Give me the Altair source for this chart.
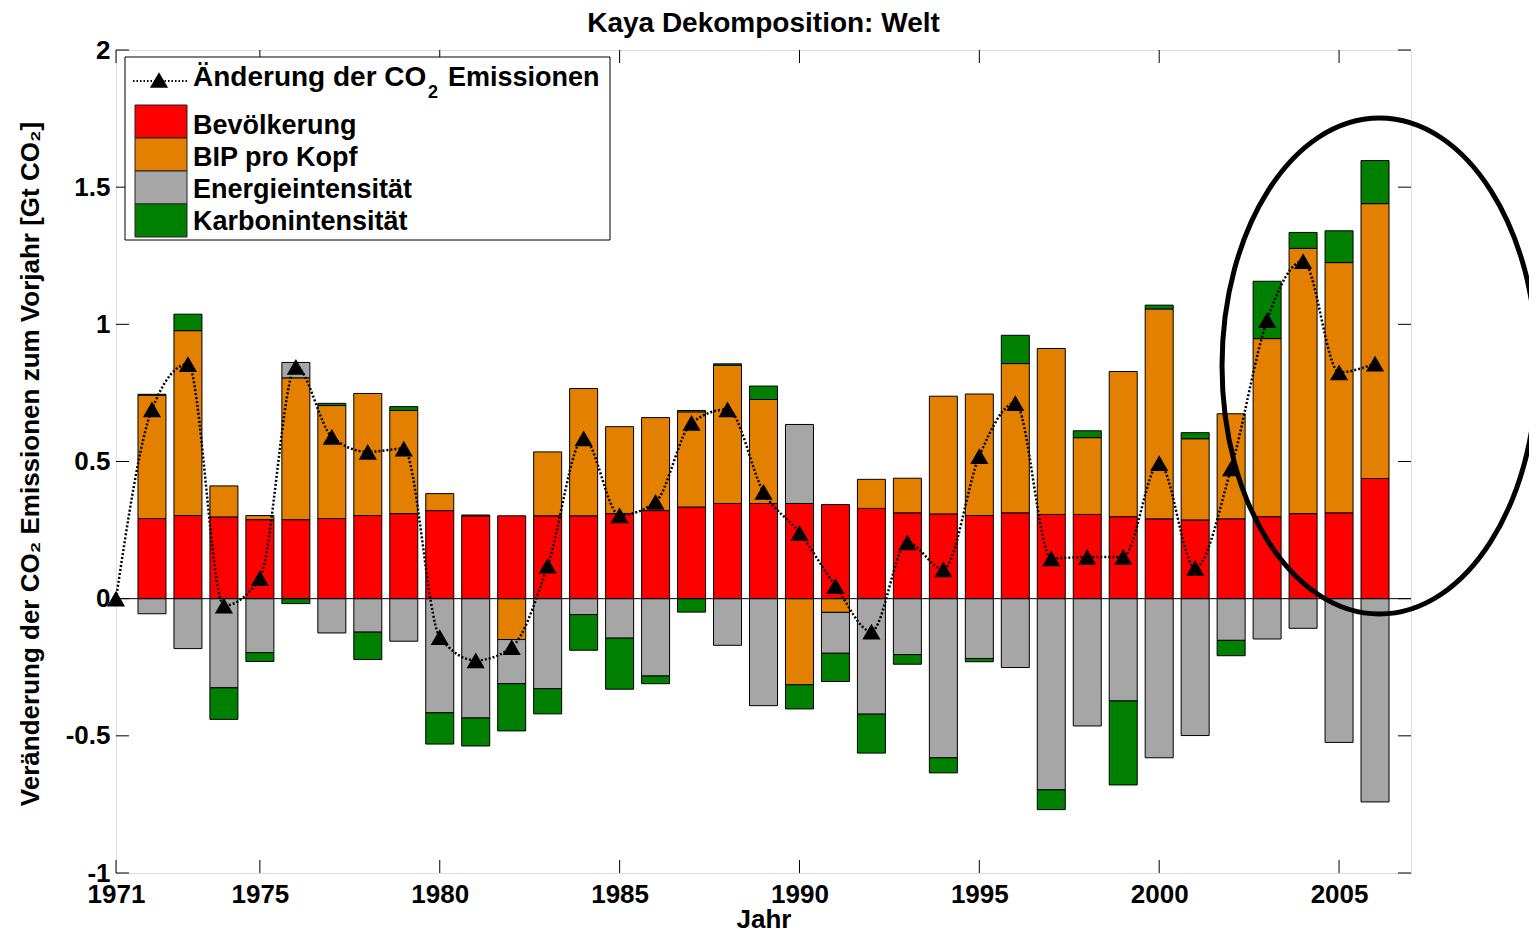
import altair as alt
import pandas as pd

# ---------------- data ----------------
YEARS = list(range(1972, 2007))
COMPONENTS = ["Bevölkerung", "BIP pro Kopf", "Energieintensität", "Karbonintensität"]
COLORS = ["#FF0000", "#E38000", "#A6A6A6", "#008000"]

POP = [0.292, 0.303, 0.298, 0.288, 0.288, 0.292, 0.303, 0.310, 0.321, 0.302,
       0.302, 0.302, 0.302, 0.310, 0.321, 0.334, 0.347, 0.347, 0.347, 0.343,
       0.329, 0.313, 0.309, 0.303, 0.313, 0.307, 0.307, 0.299, 0.291, 0.287,
       0.291, 0.299, 0.310, 0.313, 0.438]
GDP = [0.450, 0.674, 0.113, 0.015, 0.517, 0.412, 0.445, 0.376, 0.062, 0.003,
       -0.149, 0.233, 0.464, 0.317, 0.339, 0.347, 0.504, 0.379, -0.314, -0.050,
       0.106, 0.126, 0.429, 0.443, 0.544, 0.605, 0.280, 0.529, 0.765, 0.296,
       0.383, 0.649, 0.967, 0.912, 1.002]
ENERGY = [-0.055, -0.182, -0.325, -0.197, 0.056, -0.125, -0.122, -0.155, -0.416, -0.435,
          -0.161, -0.328, -0.058, -0.144, -0.282, 0.005, -0.170, -0.390, 0.288, -0.149,
          -0.421, -0.204, -0.580, -0.218, -0.251, -0.697, -0.464, -0.373, -0.580, -0.499,
          -0.152, -0.147, -0.108, -0.524, -0.741]
CARBON = [0.003, 0.060, -0.115, -0.032, -0.018, 0.008, -0.100, 0.014, -0.114, -0.102,
          -0.172, -0.092, -0.130, -0.186, -0.028, -0.049, 0.005, 0.049, -0.088, -0.103,
          -0.142, -0.035, -0.055, -0.012, 0.103, -0.072, 0.025, -0.306, 0.014, 0.022,
          -0.056, 0.209, 0.058, 0.116, 0.157]

LINE_YEARS = list(range(1971, 2007))
TOTAL = [0.0, 0.69, 0.855, -0.025, 0.075, 0.845, 0.59, 0.535, 0.547, -0.14,
         -0.225, -0.177, 0.12, 0.584, 0.304, 0.353, 0.641, 0.69, 0.389, 0.24,
         0.047, -0.12, 0.205, 0.107, 0.52, 0.713, 0.147, 0.152, 0.152, 0.494,
         0.112, 0.475, 1.015, 1.23, 0.825, 0.857]

X_TICKS = [1971, 1975, 1980, 1985, 1990, 1995, 2000, 2005]
Y_TICKS = [-1, -0.5, 0, 0.5, 1, 1.5, 2]
X_DOMAIN = [1971, 2007]
Y_DOMAIN = [-1, 2]

TITLE = "Kaya Dekomposition: Welt"
X_TITLE = "Jahr"
Y_TITLE = "Veränderung der CO₂ Emissionen zum Vorjahr [Gt CO₂]"
LINE_LABEL = ["Änderung der CO", "2", "Emissionen"]

# ---------------- tables ----------------
rows = []
for i, yr in enumerate(YEARS):
    for k, arr in enumerate([POP, GDP, ENERGY, CARBON]):
        rows.append({"year": yr, "komponente": COMPONENTS[k], "wert": arr[i], "ord": k})
bar_df = pd.DataFrame(rows)
line_df = pd.DataFrame({"year": LINE_YEARS, "total": TOTAL})
xt_df = pd.DataFrame({"v": X_TICKS})
yt_df = pd.DataFrame({"v": Y_TICKS})
zero_df = pd.DataFrame({"v": [0]})
one_df = pd.DataFrame({"a": [0]})
leg_df = pd.DataFrame({"komponente": COMPONENTS, "i": list(range(len(COMPONENTS)))})

# ---------------- layout ----------------
W, H = 1295, 823
FONT = "Liberation Sans"
TICK = 13

xs = alt.Scale(domain=X_DOMAIN, nice=False, zero=False, padding=0)
ys = alt.Scale(domain=Y_DOMAIN, nice=False, zero=False, padding=0)
cs = alt.Scale(domain=COMPONENTS, range=COLORS)

x_axis = alt.Axis(values=X_TICKS, labelExpr="datum.value", title=X_TITLE,
                  ticks=False, tickSize=0, domain=False, grid=False,
                  labelFont=FONT, labelFontSize=26, labelFontWeight="bold",
                  labelColor="black", labelPadding=8, labelFlush=False,
                  labelOverlap=False, titleFont=FONT, titleFontSize=26,
                  titleFontWeight="bold", titleColor="black",
                  titleBaseline="alphabetic", titleY=54, titleX=W / 2)
y_axis = alt.Axis(values=Y_TICKS, labelExpr="datum.value", title=Y_TITLE,
                  ticks=False, tickSize=0, domain=False, grid=False,
                  labelFont=FONT, labelFontSize=26, labelFontWeight="bold",
                  labelColor="black", labelPadding=6, labelFlush=False,
                  labelOverlap=False, titleFont=FONT, titleFontSize=26,
                  titleFontWeight="bold", titleColor="black", titleAngle=270,
                  titleAlign="center", titleBaseline="alphabetic",
                  titleX=-78, titleY=H / 2 + 2)


def X(field):
    return alt.X(field, scale=xs, axis=x_axis)


def Y(field, **kw):
    return alt.Y(field, scale=ys, axis=y_axis, **kw)


bars = alt.Chart(bar_df).mark_bar(size=28, stroke="black", strokeWidth=1).encode(
    x=X("year:Q"),
    y=Y("wert:Q", stack="zero"),
    color=alt.Color("komponente:N", scale=cs, legend=None),
    order=alt.Order("ord:Q", sort="ascending"),
)

zero_line = alt.Chart(zero_df).mark_rule(color="black", strokeWidth=1).encode(y=Y("v:Q"))

line = alt.Chart(line_df).mark_line(color="black", strokeWidth=2.5, strokeDash=[2, 2],
                                     interpolate="monotone").encode(
    x=X("year:Q"), y=Y("total:Q"))
points = alt.Chart(line_df).mark_point(shape="triangle-up", filled=True, size=330,
                                        color="black", opacity=1).encode(
    x=X("year:Q"), y=Y("total:Q"))

tick_style = dict(color="black", strokeWidth=1)
left_ticks = alt.Chart(yt_df).mark_rule(**tick_style).encode(
    y=Y("v:Q"), x=alt.value(0), x2=alt.value(TICK))
right_ticks = alt.Chart(yt_df).mark_rule(**tick_style).encode(
    y=Y("v:Q"), x=alt.value(W - TICK), x2=alt.value(W))
bottom_ticks = alt.Chart(xt_df).mark_rule(**tick_style).encode(
    x=X("v:Q"), y=alt.value(H - TICK), y2=alt.value(H))
top_ticks = alt.Chart(xt_df).mark_rule(**tick_style).encode(
    x=X("v:Q"), y=alt.value(0), y2=alt.value(TICK))

ELLIPSE = "M-0.635,0 A0.635,1 0 1,1 0.635,0 A0.635,1 0 1,1 -0.635,0 Z"
ellipse = alt.Chart(one_df).mark_point(shape=ELLIPSE, size=496 * 496, filled=False,
                                        stroke="black", strokeWidth=5, opacity=1).encode(
    x=alt.value(1263.5), y=alt.value(316))

title = alt.Chart(one_df).mark_text(text=TITLE, font=FONT, fontSize=28, fontWeight="bold",
                                     color="black", align="center", baseline="alphabetic").encode(
    x=alt.value(W / 2), y=alt.value(-18))

# ---------------- custom legend ----------------
leg_box = alt.Chart(one_df).mark_rect(fill="white", stroke="black", strokeWidth=1).encode(
    x=alt.value(9), x2=alt.value(494), y=alt.value(7), y2=alt.value(190))
leg_line = alt.Chart(one_df).mark_rule(color="black", strokeWidth=2, strokeDash=[1.5, 2]).encode(
    x=alt.value(17), x2=alt.value(72), y=alt.value(31))
leg_tri = alt.Chart(one_df).mark_point(shape="triangle-up", filled=True, size=330,
                                        color="black", opacity=1).encode(
    x=alt.value(43), y=alt.value(30))
txt = dict(font=FONT, fontWeight="bold", color="black", align="left", baseline="alphabetic")
leg_t1 = alt.Chart(one_df).mark_text(text=LINE_LABEL[0], fontSize=28, **txt).encode(
    x=alt.value(77), y=alt.value(36))
leg_t2 = alt.Chart(one_df).mark_text(text=LINE_LABEL[1], fontSize=18, **txt).encode(
    x=alt.value(312), y=alt.value(48))
leg_t3 = alt.Chart(one_df).mark_text(text=LINE_LABEL[2], fontSize=27, **txt).encode(
    x=alt.value(332), y=alt.value(36))
leg_rects = alt.Chart(leg_df).transform_calculate(
    py="55 + datum.i * 33", py2="88 + datum.i * 33").mark_rect(
    stroke="#222", strokeWidth=1).encode(
    x=alt.value(19), x2=alt.value(71),
    y=alt.Y("py:Q", scale=None, axis=None), y2="py2:Q",
    color=alt.Color("komponente:N", scale=cs, legend=None))
leg_text = alt.Chart(leg_df).transform_calculate(py="83.5 + datum.i * 32").mark_text(
    fontSize=27, **txt).encode(
    x=alt.value(77), y=alt.Y("py:Q", scale=None, axis=None), text="komponente:N")

chart = alt.layer(
    bars, zero_line, line, points,
    left_ticks, right_ticks, bottom_ticks, top_ticks,
    ellipse, title, leg_box, leg_line, leg_tri, leg_t1, leg_t2, leg_t3, leg_rects, leg_text,
).properties(
    width=W, height=H,
    autosize=alt.AutoSizeParams(type="none"),
    padding={"left": 108, "top": 42, "right": 118, "bottom": 60},
).configure_view(stroke="black", strokeWidth=1).configure(background="white")

chart.save("out.html", embed_options={"renderer": "svg", "actions": False})
